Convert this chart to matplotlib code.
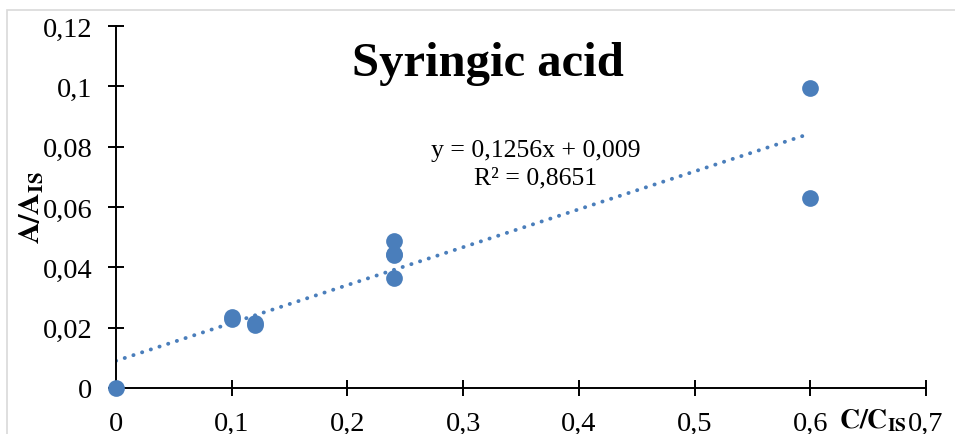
import numpy as np
import matplotlib.pyplot as plt
from matplotlib.patches import Rectangle

# values
x_vals = [0, 0.1, 0.1, 0.12, 0.12, 0.24, 0.24, 0.24, 0.24, 0.6, 0.6]
y_vals = [0, 0.0235, 0.023, 0.0215, 0.021, 0.0488, 0.0445, 0.0440, 0.0363, 0.0995, 0.063]
slope = 0.1256
intercept = 0.009
r2 = 0.8651
x_ticks = [0, 0.1, 0.2, 0.3, 0.4, 0.5, 0.6, 0.7]
y_ticks = [0, 0.02, 0.04, 0.06, 0.08, 0.1, 0.12]

plt.rcParams["font.family"] = ["Liberation Serif", "DejaVu Serif"]
plt.rcParams["mathtext.fontset"] = "stix"

blue = "#4a7ebb"

fig = plt.figure(figsize=(9.55, 4.35), dpi=100)
ax = fig.add_axes([116 / 955, 1 - 389 / 435, 810 / 955, 362 / 435])

# light grey chart-area border (cropped at right/bottom)
fig.patches.append(Rectangle((7 / 955, -0.1), 1.2, 1 - 11 / 435 + 0.1,
                             transform=fig.transFigure, fill=False,
                             edgecolor="#d9d9d9", linewidth=1.2))

# trendline
xl = np.array([0, max(x_vals)])
ax.plot(xl, slope * xl + intercept, color=blue, linewidth=2.8,
        linestyle=(0, (0.05, 2.3)), dash_capstyle="round", zorder=2)

ax.scatter(x_vals, y_vals, s=145, color=blue, zorder=3, clip_on=False,
           linewidths=0)

ax.set_xlim(0, 0.7)
ax.set_ylim(0, 0.12)
ax.set_xticks(x_ticks)
ax.set_yticks(y_ticks)
fmt = lambda v: ("%g" % v).replace(".", ",")
ax.set_xticklabels([fmt(v) for v in x_ticks])
ax.set_yticklabels([fmt(v) for v in y_ticks])

for s in ["top", "right"]:
    ax.spines[s].set_visible(False)
for s in ["left", "bottom"]:
    ax.spines[s].set_linewidth(1.4)
ax.tick_params(axis="both", direction="inout", length=11, width=1.4,
               labelsize=20.5)
ax.tick_params(axis="y", pad=11.5)
ax.tick_params(axis="x", pad=11)

ax.text(0.459, 0.898, "Syringic acid", transform=ax.transAxes, ha="center",
        va="center", fontsize=35, fontweight="bold")
ax.text(0.5185, 0.62, "y = 0,1256x + 0,009\nR² = 0,8651", transform=ax.transAxes,
        ha="center", va="center", fontsize=18.5, linespacing=1.32)

fig.text(31 / 955, 1 - 208 / 435, r"$\mathbf{A/A_{IS}}$", rotation=90,
         ha="center", va="center", fontsize=21.5)
fig.text(873 / 955, 1 - 421 / 435, r"$\mathbf{C/C_{IS}}$",
         ha="center", va="center", fontsize=20)

fig.savefig("out.png", dpi=100)
